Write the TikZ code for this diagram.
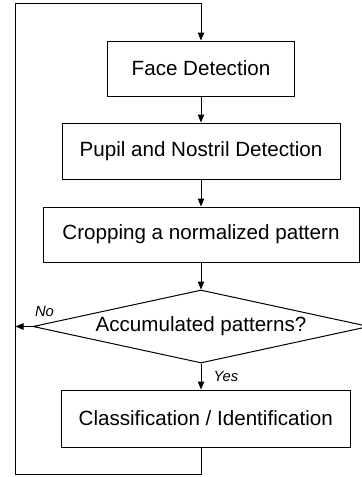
\documentclass[tikz,border=0pt]{standalone}
\usepackage{fontspec}
\setmainfont{Liberation Sans}
\usetikzlibrary{arrows.meta, positioning, shapes.geometric, calc}

\begin{document}
\begin{tikzpicture}[x=0.5pt, y=-0.5pt,
    box/.style={draw, line width=0.5pt, inner sep=0pt, font=\fontsize{10.3}{12.4}\selectfont},
    decision/.style={draw, diamond, aspect=4.6, line width=0.5pt, inner sep=0pt,
        minimum width=168pt, minimum height=36.5pt, font=\fontsize{10.3}{12.4}\selectfont},
    flow/.style={-{Triangle[length=4pt,width=3.2pt]}, line width=0.5pt},
    lbl/.style={inner sep=0pt, font=\fontsize{7.4}{9}\selectfont\itshape}]
    \useasboundingbox (0,0) rectangle (361,477);

    % Process steps
    \node[box, minimum width=93.5pt, minimum height=27.5pt] (face) at (201,68.5) {Face Detection};
    \node[box, minimum width=139pt, minimum height=28pt] (pupil) at (201,151) {Pupil and Nostril Detection};
    \node[box, minimum width=158pt, minimum height=27.5pt] (crop) at (201,234.5) {Cropping a normalized pattern};

    % Decision
    \node[decision] (acc) at (201,326.5) {Accumulated patterns?};

    % Final step
    \node[box, minimum width=144.5pt, minimum height=28.5pt] (class) at (205.75,418.5) {Classification / Identification};

    % Corners of the feedback loop
    \coordinate (loopbot) at (15.5,474);
    \coordinate (looptop) at (15.5,3.5);

    % Main flow
    \draw[flow] (face) -- (pupil);
    \draw[flow] (pupil) -- (crop);
    \draw[flow] (crop) -- (acc);
    \draw[flow] (acc.south) -- node[lbl, right=6pt] {Yes} (acc.south |- class.north);

    % No branch
    \draw[flow] (acc.west) node[lbl, xshift=6pt, yshift=7.75pt] {No} -- (acc.west -| loopbot);

    % Feedback loop
    \draw[flow] (class.south -| face.south) -- (loopbot -| face.south) -- (loopbot)
        -- (looptop) -- (looptop -| face.north) -- (face.north);
\end{tikzpicture}
\end{document}
